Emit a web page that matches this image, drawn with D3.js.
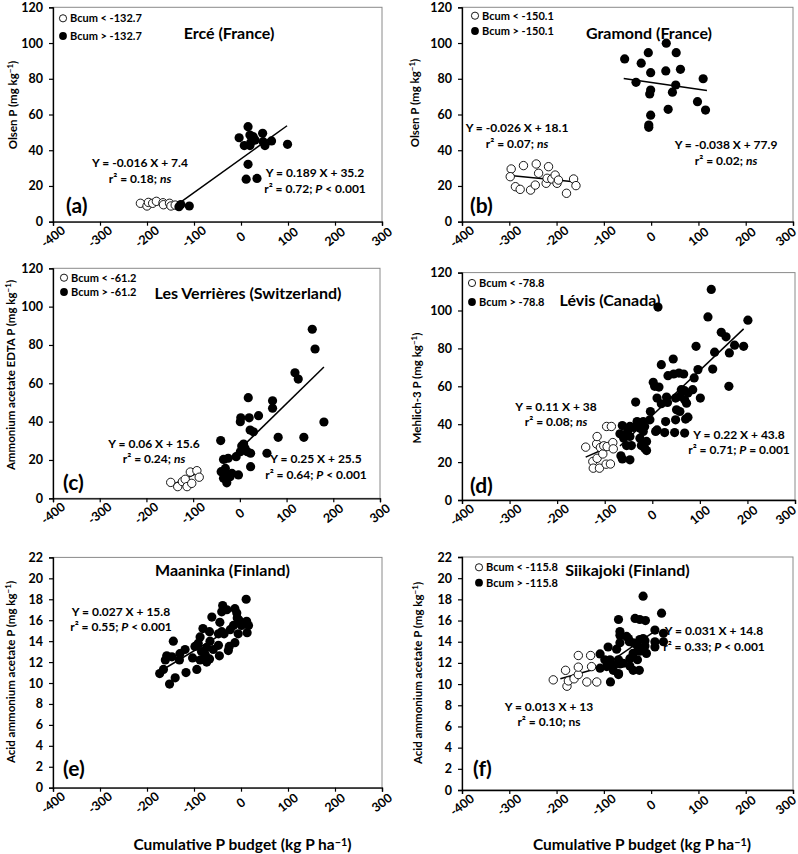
<!DOCTYPE html>
<html><head><meta charset="utf-8">
<script src="https://cdn.jsdelivr.net/npm/d3@7"></script>
<style>
html,body{margin:0;padding:0;background:#fff;}
svg{display:block;font-family:Lato,"Open Sans",sans-serif;font-weight:bold;}
</style></head>
<body><svg id="chart" width="798" height="854"></svg>
<script>
// ---------- data ----------
const xTicks = [-400,-300,-200,-100,0,100,200,300];
const yTicksP = [0,20,40,60,80,100,120];
const yTicksFin = [0,2,4,6,8,10,12,14,16,18,20,22];

const aOpen = [[-214,10.3],[-200,8.8],[-197,10.8],[-188,10.3],[-180,11.4],[-166,10.6],[-165,9.5],[-152,10.3],[-149,8.8],[-140,9.3]];
const aFilled = [[-132,8.4],[-128,9.6],[-110,8.8],[-4,47.0],[15,53.2],[19,48.5],[26,47.6],[30,45.7],[7,42.6],[19,42.6],[21,44.5],[47,44.8],[51,42.6],[46,49.5],[65,45.2],[99,43.3],[15,32.1],[11,23.8],[34,24.2]];
const aFits = [[-214,10.8,-130,9.5],[-132,10.25,98,53.7]];

const bOpen = [[-296,29.5],[-298,25.2],[-287,19.6],[-277,18.1],[-270,31.4],[-255,17.7],[-245,20.5],[-243,32.3],[-238,27.1],[-222,21.5],[-220,24.3],[-217,30.8],[-210,23.9],[-203,26.1],[-199,21.5],[-196,23.3],[-179,15.9],[-164,23.9],[-159,20.2]];
const bFilled = [[-56,91.1],[-6,94.6],[32,99.9],[53,94.6],[-21,88.7],[-1,83.4],[31,84.4],[62,85.3],[-32,78],[110,80],[52,76.5],[-1,73.7],[-3,71.5],[45,72.5],[98,67.2],[115,62.5],[36,62.9],[-1,59.6],[-5,54.1],[-5,52.8]];
const bFits = [[-298,25.9,-158,22.2],[-58,80.1,118,73.4]];

const cOpen = [[-148,8.3],[-133,6.1],[-123,8.7],[-117,9.9],[-113,6.1],[-106,13.7],[-103,7.8],[-92,14.4],[-87,11]];
const cFilled = [[155,88.2],[161,77.9],[118,65.5],[125,62.2],[18,52.5],[70,50.9],[70,47],[2,42],[20,42],[40,43.1],[1,40],[180,39.8],[82,31.8],[137,31.8],[22,35.6],[29,34.7],[-41,30.1],[4,27.3],[11,26.1],[1,24.3],[16,24.3],[23,23.5],[58,23.5],[-8,21.7],[-35,20.3],[-25,20.9],[23,16.5],[-40,13.9],[-31,15.6],[-31,12.2],[-21,11.3],[-3,12.2],[-35,10.4],[-28,8.1],[-17,13],[8,28.3]];
const cFits = [[-149,6.6,-92,13.0],[-30,18.5,180,68.5]];

const dOpen = [[-140,27.9],[-125,20.3],[-124,16.8],[-117,29.6],[-116,33.5],[-116,22],[-111,16.8],[-109,27.7],[-104,24.3],[-102,28.6],[-96,38.8],[-97,18.9],[-95,28.2],[-88,19],[-86,38.8],[-83,30.3],[-82,27]];
const dFilled = [[124,111.1],[117,96.6],[12,101.8],[201,94.9],[145,88.5],[155,86.1],[92,81.1],[173,81.7],[192,81.1],[131,78],[162,77.6],[44,74.4],[19,71.4],[96,68.8],[127,69.1],[33,65.6],[45,66.5],[56,67],[66,66.5],[161,60],[2,62.1],[5,60],[14,59.6],[61,58.2],[68,57.7],[85,58.2],[88,64.4],[101,53.8],[10,53.8],[30,54.3],[49,53.8],[68,52.9],[58,54.7],[-4,46.7],[19,50.8],[32,51.5],[51,47.6],[58,46.7],[72,51.1],[75,56.4],[-35,51.7],[-32,41.4],[-47,38.8],[-63,39.3],[-68,34.9],[-60,32.6],[-52,36.2],[-47,33.5],[-40,38.3],[-26,37.9],[-19,41.4],[-16,38.8],[-19,36.2],[-26,32.6],[-12,30.9],[-16,27.3],[-12,26.1],[-23,28.7],[-54,28.7],[-44,28.7],[-66,23.3],[-63,21.7],[-47,21.2],[7,36.2],[10,37],[47,35.6],[28,41.4],[49,42.3],[70,42.7],[75,43.7],[68,35.3],[26,35.6],[-5,42.3]];
const dFits = [[-140,22.6,-82,29.0],[-68,28.5,192,90.3]];

const eFilled = [[11,18.0],[-39,17.4],[-30,17.0],[-41,16.8],[-13,17.1],[-9,16.7],[-62,16.3],[-8,16.2],[12,15.9],[16,15.5],[-4,16.0],[1,15.5],[-45,15.8],[-81,15.2],[-67,14.9],[-41,14.9],[-23,15.1],[-16,15.5],[-144,14.0],[-87,14.4],[-66,14.0],[-48,14.7],[-36,14.7],[13,14.8],[-6,14.7],[-13,13.85],[-25,13.5],[-48,13.6],[-98,13.5],[-91,13.8],[-73,13.4],[-84,13.0],[-59,13.2],[-27,13.1],[-119,13.2],[-130,12.8],[-76,12.7],[-46,12.6],[-158,12.6],[-147,12.5],[-161,12.2],[-131,12.2],[-87,12.2],[-67,12.3],[-103,12.4],[-73,12.0],[-165,11.3],[-117,11.0],[-94,11.3],[-173,10.9],[-140,10.5],[-152,9.9]];
const eFits = [[-173,11.1,12,16.1]];

const fOpen = [[-207,10.4],[-181,11.3],[-178,9.8],[-175,10.3],[-163,10.5],[-154,10.9],[-154,11.6],[-154,12.7],[-136,10.2],[-128,12.7],[-126,11.65],[-115,10.2]];
const fFilled = [[-17,18.3],[22,16.7],[-69,16.1],[-34,16.2],[-24,16.1],[-12,16.0],[8,15.1],[26,14.8],[-66,14.96],[-66,14.6],[-17,14.3],[-24,14.2],[-13,14.1],[-52,14.5],[-48,14.3],[-46,14.0],[-91,13.5],[-73,13.3],[-66,13.9],[-38,13.9],[-29,13.6],[8,14.0],[26,14.0],[8,13.5],[-24,13.1],[-10,12.9],[-38,12.9],[-45,12.4],[-29,12.3],[-108,12.85],[-98,12.3],[-87,12.3],[-69,12.3],[-108,11.5],[-94,11.65],[-80,11.8],[-66,11.9],[-59,11.97],[-80,11.3],[-69,11.0],[-38,11.3],[-25,11.3],[-45,11.7],[-86,10.2],[-69,10.9],[-13,13.6]];
const fFits = [[-192,10.5,-120,11.4],[-110,11.4,8,15.0]];

const thresholds = {a:"-132.7", b:"-150.1", c:"-61.2", d:"-78.8", f:"-115.8"};

// ---------- panels ----------
const panels = [
 {id:"a", box:{l:53,r:382,t:7.3,b:221.7}, yMax:120, yTicks:yTicksP, open:aOpen, filled:aFilled, fits:aFits,
  legend:{cx:63,y1:18.3,y2:36}, title:{t:"Ercé (France)",x:229,y:33},
  ylab:{parts:[{t:"Olsen P (mg kg"},{t:"−1",sup:true},{t:")"}],x:13,y:105},
  label:{t:"(a)",x:66,y:213},
  eqs:[{l1:"Y = -0.016 X + 7.4",l2:[{t:"r² = 0.18; "},{t:"ns",i:true}],x:140,y:163},
       {l1:"Y = 0.189 X + 35.2",l2:[{t:"r² = 0.72; "},{t:"P",i:true},{t:" < 0.001"}],x:315,y:173}]},
 {id:"b", box:{l:462,r:793,t:7.3,b:221.7}, yMax:120, yTicks:yTicksP, open:bOpen, filled:bFilled, fits:bFits,
  legend:{cx:475,y1:15.7,y2:31}, title:{t:"Gramond (France)",x:649,y:33},
  ylab:{parts:[{t:"Olsen P (mg kg"},{t:"−1",sup:true},{t:")"}],x:415,y:103},
  label:{t:"(b)",x:470,y:213},
  eqs:[{l1:"Y = -0.026 X + 18.1",l2:[{t:"r² = 0.07; "},{t:"ns",i:true}],x:517,y:128},
       {l1:"Y = -0.038 X + 77.9",l2:[{t:"r² = 0.02; "},{t:"ns",i:true}],x:726,y:145}]},
 {id:"c", box:{l:53,r:380,t:268.3,b:498.3}, yMax:120, yTicks:yTicksP, open:cOpen, filled:cFilled, fits:cFits,
  legend:{cx:64,y1:277.7,y2:292}, title:{t:"Les Verrières (Switzerland)",x:248,y:293.5},
  ylab:{parts:[{t:"Ammonium acetate EDTA P (mg kg"},{t:"−1",sup:true},{t:")"}],x:11,y:375},
  label:{t:"(c)",x:63,y:490},
  eqs:[{l1:"Y = 0.06 X + 15.6",l2:[{t:"r² = 0.24; "},{t:"ns",i:true}],x:154,y:443.5},
       {l1:"Y = 0.25 X + 25.5",l2:[{t:"r² = 0.64; "},{t:"P",i:true},{t:" < 0.001"}],x:316,y:459}]},
 {id:"d", box:{l:462,r:795,t:272.6,b:500}, yMax:120, yTicks:yTicksP, open:dOpen, filled:dFilled, fits:dFits,
  legend:{cx:472,y1:283,y2:302}, title:{t:"Lévis (Canada)",x:610,y:300.7},
  ylab:{parts:[{t:"Mehlich-3 P (mg kg"},{t:"−1",sup:true},{t:")"}],x:417,y:388},
  label:{t:"(d)",x:470,y:493},
  eqs:[{l1:"Y = 0.11 X + 38",l2:[{t:"r² = 0.08; "},{t:"ns",i:true}],x:556,y:406.7},
       {l1:"Y = 0.22 X + 43.8",l2:[{t:"r² = 0.71; "},{t:"P",i:true},{t:" = 0.001"}],x:739,y:434.3}]},
 {id:"e", box:{l:53,r:382,t:557.4,b:787.7}, yMax:22, yTicks:yTicksFin, open:null, filled:eFilled, fits:eFits,
  legend:null, title:{t:"Maaninka (Finland)",x:222.5,y:570},
  ylab:{parts:[{t:"Acid ammonium acetate P (mg kg"},{t:"−1",sup:true},{t:")"}],x:11,y:672},
  label:{t:"(e)",x:63,y:776},
  eqs:[{l1:"Y = 0.027 X + 15.8",l2:[{t:"r² = 0.55; "},{t:"P",i:true},{t:" < 0.001"}],x:121,y:611.7}]},
 {id:"f", box:{l:462,r:793,t:557,b:790}, yMax:22, yTicks:yTicksFin, open:fOpen, filled:fFilled, fits:fFits,
  legend:{cx:479,y1:567.3,y2:582.7}, title:{t:"Siikajoki (Finland)",x:627.5,y:570.7},
  ylab:{parts:[{t:"Acid ammonium acetate P (mg kg"},{t:"−1",sup:true},{t:")"}],x:418,y:673},
  label:{t:"(f)",x:473,y:776},
  eqs:[{l1:"Y = 0.031 X + 14.8",l2:[{t:"r² = 0.33; "},{t:"P",i:true},{t:" < 0.001"}],x:714,y:631},
       {l1:"Y = 0.013 X + 13",l2:[{t:"r² = 0.10; ns"}],x:549,y:706.7}]}
];

const svg = d3.select("#chart");

function rich(sel, parts){
  let afterSup = false;
  parts.forEach(p=>{
    const ts = sel.append("tspan").text(p.t);
    if(p.i) ts.attr("font-style","italic");
    if(p.sup){ ts.attr("font-size","0.7em").attr("dy","-0.45em"); afterSup = true; }
    else if(afterSup){ ts.attr("dy","0.315em"); afterSup = false; }
  });
}

panels.forEach(p=>{
  const B = p.box;
  const x = d3.scaleLinear().domain([-400,300]).range([B.l,B.r]);
  const y = d3.scaleLinear().domain([0,p.yMax]).range([B.b,B.t]);
  const g = svg.append("g");

  g.append("rect").attr("x",B.l).attr("y",B.t).attr("width",B.r-B.l).attr("height",B.b-B.t)
    .attr("fill","none").attr("stroke","#8a8a8a").attr("stroke-width",1);

  const xa = g.append("g").attr("transform",`translate(0,${B.b})`)
    .call(d3.axisBottom(x).tickValues(xTicks).tickSize(4).tickFormat(""));
  const ya = g.append("g").attr("transform",`translate(${B.l},0)`)
    .call(d3.axisLeft(y).tickValues(p.yTicks).tickSize(4).tickFormat(d3.format("d")).tickPadding(6));
  [xa,ya].forEach(a=>{
    a.selectAll("path.domain").attr("stroke","#000").attr("stroke-width",1.3);
    a.selectAll(".tick line").attr("stroke","#000").attr("stroke-width",1.2);
  });
  ya.selectAll(".tick text").attr("font-family","Lato").attr("font-weight","bold")
    .attr("font-size",12.5).attr("fill","#000");
  g.selectAll("text.xt").data(xTicks).join("text").attr("class","xt")
    .attr("transform",d=>`translate(${Math.min(x(d),786)},${B.b+15}) rotate(-38)`)
    .attr("text-anchor","middle").attr("dy","0.35em")
    .attr("font-size",12.5).text(d=>d);

  g.selectAll("line.fit").data(p.fits).join("line").attr("class","fit")
    .attr("x1",d=>x(d[0])).attr("y1",d=>y(d[1])).attr("x2",d=>x(d[2])).attr("y2",d=>y(d[3]))
    .attr("stroke","#000").attr("stroke-width",1.5);

  if(p.open){
    g.selectAll("circle.op").data(p.open).join("circle").attr("class","op")
      .attr("cx",d=>x(d[0])).attr("cy",d=>y(d[1])).attr("r",4.2)
      .attr("fill","#fff").attr("stroke","#000").attr("stroke-width",0.9);
  }
  g.selectAll("circle.fp").data(p.filled).join("circle").attr("class","fp")
    .attr("cx",d=>x(d[0])).attr("cy",d=>y(d[1])).attr("r",4.6).attr("fill","#000");

  if(p.legend){
    const L = p.legend, th = thresholds[p.id];
    g.append("circle").attr("cx",L.cx).attr("cy",L.y1).attr("r",3.6).attr("fill","#fff").attr("stroke","#000").attr("stroke-width",0.9);
    g.append("circle").attr("cx",L.cx).attr("cy",L.y2).attr("r",3.9).attr("fill","#000");
    g.append("text").attr("x",L.cx+7).attr("y",L.y1).attr("dy","0.35em").attr("font-size",11).text("Bcum < "+th);
    g.append("text").attr("x",L.cx+7).attr("y",L.y2).attr("dy","0.35em").attr("font-size",11).text("Bcum > "+th);
  }

  g.append("text").attr("x",p.title.x).attr("y",p.title.y).attr("dy","0.35em")
    .attr("text-anchor","middle").attr("font-size",16).text(p.title.t);
  g.append("text").attr("x",p.label.x).attr("y",p.label.y).attr("font-size",21).text(p.label.t);
  p.eqs.forEach(e=>{
    g.append("text").attr("x",e.x).attr("y",e.y).attr("dy","0.35em").attr("text-anchor","middle")
      .attr("font-size",12).text(e.l1);
    const t2 = g.append("text").attr("x",e.x).attr("y",e.y+15.5).attr("dy","0.35em").attr("text-anchor","middle")
      .attr("font-size",12);
    rich(t2, e.l2);
  });
  const yl = g.append("text").attr("transform",`translate(${p.ylab.x},${p.ylab.y}) rotate(-90)`)
    .attr("text-anchor","middle").attr("dy","0.35em").attr("font-size",11.5);
  rich(yl, p.ylab.parts);

  if(p.id==="e"||p.id==="f"){
    const xl = g.append("text").attr("x",p.id==="e"?242.5:642).attr("y",845).attr("dy","0.35em")
      .attr("text-anchor","middle").attr("font-size",15.5);
    rich(xl,[{t:"Cumulative P budget (kg P ha"},{t:"−1",sup:true},{t:")"}]);
  }
});
</script></body></html>
